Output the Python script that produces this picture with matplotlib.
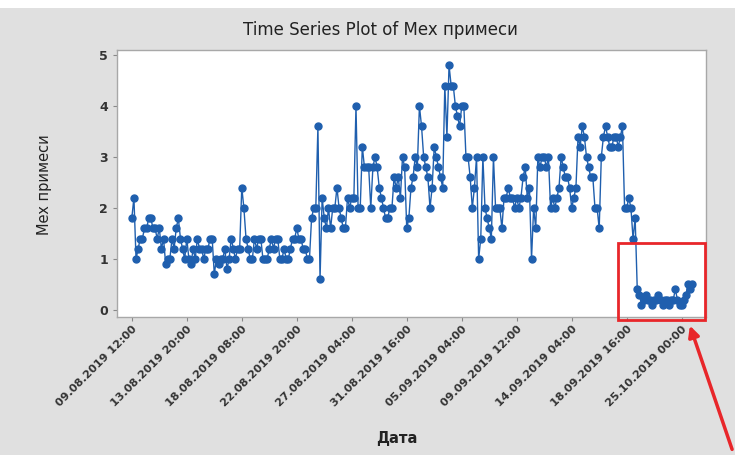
import matplotlib
matplotlib.use("Agg")
import matplotlib.pyplot as plt
from matplotlib.patches import Rectangle, FancyArrowPatch

values = [
    # 09.08 12:00 .. 13.08 20:00
    1.8, 2.2, 1.0, 1.2, 1.4, 1.4, 1.6, 1.6, 1.8, 1.8, 1.6, 1.6, 1.4, 1.6, 1.2, 1.4,
    0.9, 1.0, 1.0, 1.4, 1.2, 1.6, 1.8, 1.4, 1.2, 1.0,
    # 13.08 20:00 .. 18.08 08:00
    1.4, 1.0, 0.9, 1.2, 1.0, 1.4, 1.2, 1.2, 1.0, 1.2, 1.2, 1.4, 1.4, 0.7, 1.0, 0.9,
    1.0, 1.0, 1.2, 0.8, 1.0, 1.4, 1.2, 1.0, 1.2, 1.2,
    # 18.08 08:00 .. 22.08 20:00
    2.4, 2.0, 1.4, 1.2, 1.0, 1.0, 1.4, 1.2, 1.4, 1.4, 1.0, 1.0, 1.0, 1.2, 1.4, 1.2,
    1.4, 1.4, 1.0, 1.0, 1.2, 1.0, 1.0, 1.2, 1.4, 1.4,
    # 22.08 20:00 .. 27.08 04:00
    1.6, 1.4, 1.4, 1.2, 1.2, 1.0, 1.0, 1.8, 2.0, 2.0, 3.6, 0.6, 2.2, 1.8, 1.6, 2.0,
    1.6, 2.0, 2.0, 2.4, 2.0, 1.8, 1.6, 1.6, 2.2, 2.0,
    # 27.08 04:00 .. 31.08 16:00
    2.2, 2.2, 4.0, 2.0, 2.0, 3.2, 2.8, 2.8, 2.8, 2.0, 2.8, 3.0, 2.8, 2.4, 2.2, 2.0,
    1.8, 1.8, 2.0, 2.0, 2.6, 2.4, 2.6, 2.2, 3.0, 2.8,
    # 31.08 16:00 .. 05.09 04:00
    1.6, 1.8, 2.4, 2.6, 3.0, 2.8, 4.0, 3.6, 3.0, 2.8, 2.6, 2.0, 2.4, 3.2, 3.0, 2.8,
    2.6, 2.4, 4.4, 3.4, 4.8, 4.4, 4.4, 4.0, 3.8, 3.6,
    # 05.09 04:00 .. 09.09 12:00
    4.0, 4.0, 3.0, 3.0, 2.6, 2.0, 2.4, 3.0, 1.0, 1.4, 3.0, 2.0, 1.8, 1.6, 1.4, 3.0,
    2.0, 2.0, 2.0, 1.6, 2.2, 2.2, 2.4, 2.2, 2.2, 2.0,
    # 09.09 12:00 .. 14.09 04:00
    2.2, 2.0, 2.2, 2.6, 2.8, 2.2, 2.4, 1.0, 2.0, 1.6, 3.0, 2.8, 3.0, 3.0, 2.8, 3.0,
    2.0, 2.2, 2.0, 2.2, 2.4, 3.0, 2.8, 2.6, 2.6, 2.4,
    # 14.09 04:00 .. 18.09 16:00
    2.0, 2.2, 2.4, 3.4, 3.2, 3.6, 3.4, 3.0, 2.8, 2.6, 2.6, 2.0, 2.0, 1.6, 3.0, 3.4,
    3.6, 3.4, 3.2, 3.2, 3.4, 3.4, 3.2, 3.4, 3.6, 2.0,
    # 18.09 16:00 .. end
    2.0, 2.2, 2.0, 1.4, 1.8, 0.4, 0.3, 0.1, 0.2, 0.3, 0.2, 0.2, 0.1, 0.2, 0.2, 0.3,
    0.2, 0.1, 0.2, 0.2, 0.1, 0.2, 0.2, 0.4, 0.2, 0.1, 0.1, 0.2, 0.3, 0.5, 0.4, 0.5,
]
index = list(range(1, len(values) + 1))

tick_index = [1, 27, 53, 79, 105, 131, 157, 183, 209, 235, 261]
tick_labels = ["09.08.2019 12:00", "13.08.2019 20:00", "18.08.2019 08:00",
               "22.08.2019 20:00", "27.08.2019 04:00", "31.08.2019 16:00",
               "05.09.2019 04:00", "09.09.2019 12:00", "14.09.2019 04:00",
               "18.09.2019 16:00", "25.10.2019 00:00"]

fig = plt.figure(figsize=(7.35, 4.55), dpi=100, facecolor="#e0e0e0")
# white strip of the page above the screenshot
fig.patches.append(Rectangle((0, 1 - 8 / 455), 1, 8 / 455, transform=fig.transFigure,
                             facecolor="white", edgecolor="none", zorder=0))

ax = fig.add_axes([117 / 735, (455 - 317) / 455, (706 - 117) / 735, (317 - 50) / 455])
ax.set_facecolor("white")
for s in ax.spines.values():
    s.set_color("#a8a8a8")
    s.set_linewidth(1)

ax.plot(index, values, color="#1f5fae", linewidth=1.0, marker="o", markersize=5,
        markerfacecolor="#1f5fae", markeredgecolor="#1f5fae")

ax.set_xlim(-6, 272.5)
ax.set_ylim(-0.14, 5.1)
ax.set_yticks([0, 1, 2, 3, 4, 5])
ax.set_xticks(tick_index)
ax.set_xticklabels(tick_labels, rotation=45, ha="right", rotation_mode="anchor",
                   fontsize=8, fontweight="bold", color="#333333")
ax.tick_params(axis="y", labelsize=9, labelcolor="#333333", color="#888888", length=3)
ax.tick_params(axis="x", color="#888888", length=3, pad=2)
for lab in ax.get_yticklabels():
    lab.set_fontweight("bold")

fig.text(0.517, 1 - 30 / 455, "Time Series Plot of Mex примеси", ha="center",
         va="center", fontsize=12, color="#222222")
fig.text(45 / 735, 1 - 185 / 455, "Mex примеси", rotation=90, ha="center",
         va="center", fontsize=10.5, color="#222222")
fig.text(397 / 735, 1 - 438 / 455, "Дата", ha="center", va="center",
         fontsize=10.5, fontweight="bold", color="#222222")

# red highlight box and arrow
fig.patches.append(Rectangle((618 / 735, 1 - 320 / 455), 87 / 735, 77 / 455,
                             transform=fig.transFigure, fill=False,
                             edgecolor="#e8262a", linewidth=2, zorder=5))
fig.patches.append(FancyArrowPatch((733 / 735, 1 - 452 / 455), (689 / 735, 1 - 323 / 455),
                                   transform=fig.transFigure, arrowstyle="-|>",
                                   mutation_scale=16, color="#e8262a", linewidth=2.5,
                                   zorder=5))

fig.savefig("out.png", dpi=100, facecolor=fig.get_facecolor())
